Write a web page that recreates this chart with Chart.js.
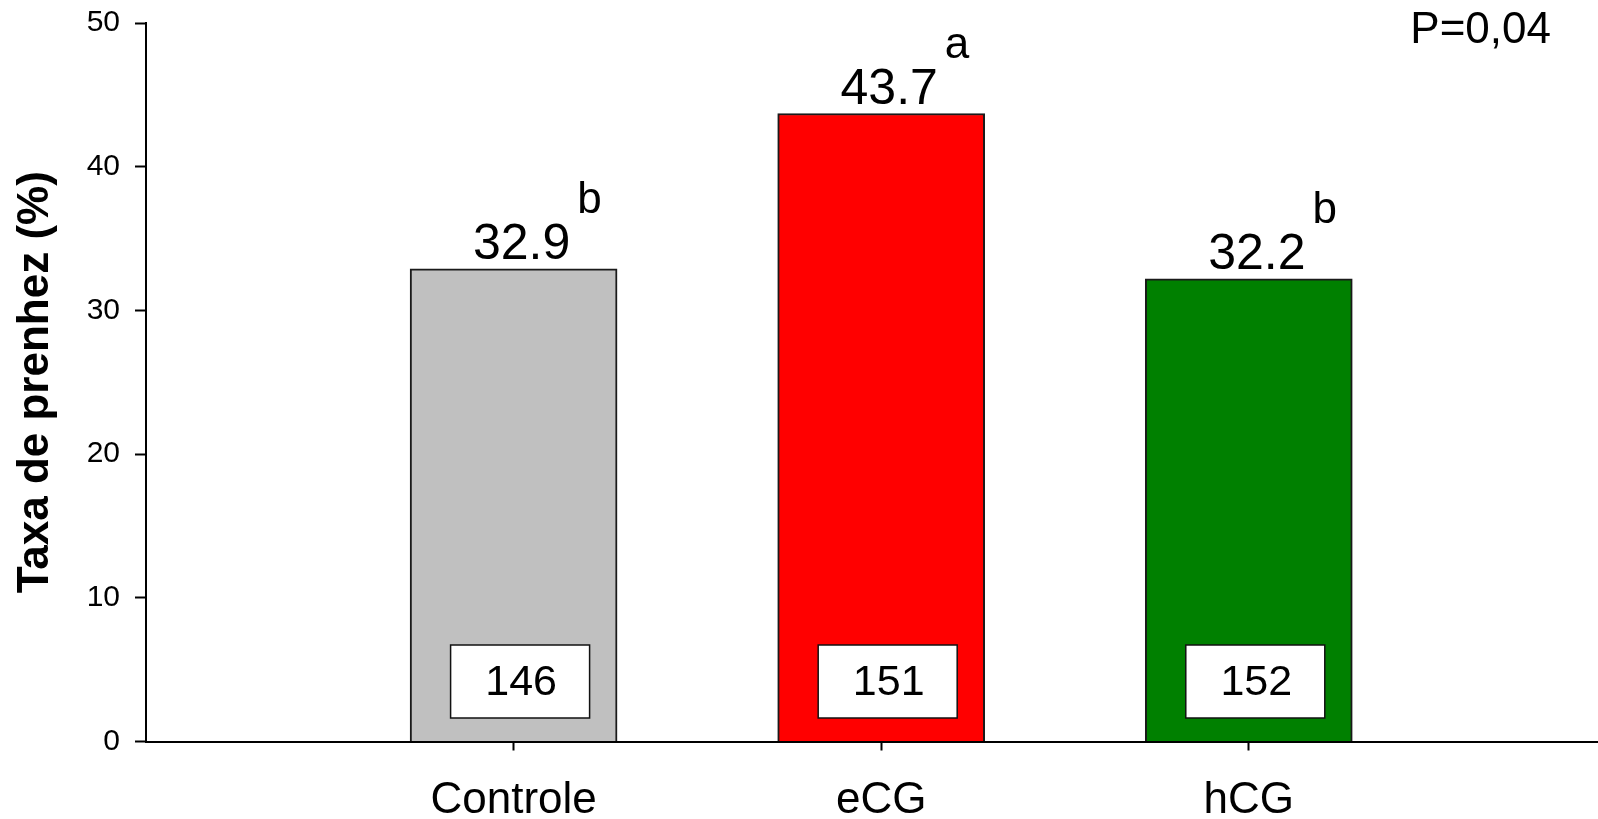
<!DOCTYPE html>
<html>
<head>
<meta charset="utf-8">
<script src="https://cdn.jsdelivr.net/npm/chart.js@4"></script>
<style>
  body { margin: 0; background: #fff; }
</style>
</head>
<body>
<canvas id="myChart" width="1598" height="819"></canvas>
<script>
const categories = ["Controle", "eCG", "hCG"];
const pregnancyRate = [32.9, 43.7, 32.2];
const nAnimals = [146, 151, 152];
const letters = ["b", "a", "b"];
const barColors = ["#C0C0C0", "#FF0000", "#008000"];
const yTicks = [0, 10, 20, 30, 40, 50];
const pText = "P=0,04";

const FONT = "'Liberation Sans', Arial, Helvetica, sans-serif";

// value labels, superscript letters, n boxes and the P value
const annotations = {
  id: "annotations",
  afterDatasetsDraw(chart) {
    const ctx = chart.ctx;
    const bars = chart.getDatasetMeta(0).data;
    ctx.save();
    bars.forEach((bar, i) => {
      // value above bar
      ctx.font = "50px " + FONT;
      ctx.fillStyle = "#000";
      ctx.textAlign = "center";
      ctx.textBaseline = "alphabetic";
      const label = pregnancyRate[i].toFixed(1);
      const cx = bar.x + 8;
      const baseY = bar.y - 10;
      ctx.fillText(label, cx, baseY);
      const w = ctx.measureText(label).width;

      // significance letter
      ctx.font = "44px " + FONT;
      ctx.textAlign = "left";
      ctx.fillText(letters[i], cx + w / 2 + 7, baseY - 46);

      // n box
      const bx = bar.x - 63;
      const by = bar.base - 96;
      const bw = 139;
      const bh = 73;
      ctx.fillStyle = "#fff";
      ctx.fillRect(bx, by, bw, bh);
      ctx.lineWidth = 1.5;
      ctx.strokeStyle = "#111";
      ctx.strokeRect(bx, by, bw, bh);
      ctx.fillStyle = "#000";
      ctx.font = "43px " + FONT;
      ctx.textAlign = "center";
      ctx.textBaseline = "middle";
      ctx.fillText(String(nAnimals[i]), bx + bw / 2 + 1, by + bh / 2 + 2);
    });

    ctx.font = "44px " + FONT;
    ctx.textAlign = "right";
    ctx.textBaseline = "alphabetic";
    ctx.fillStyle = "#000";
    ctx.fillText(pText, 1551, 43);
    ctx.restore();
  },
};

const ctx = document.getElementById("myChart");

new Chart(ctx, {
  type: "bar",
  data: {
    datasets: [
      {
        data: pregnancyRate.map((v, i) => ({ x: i + 1, y: v })),
        backgroundColor: barColors,
        borderColor: "#1a1a1a",
        borderWidth: 2,
        barThickness: 207,
      },
    ],
  },
  options: {
    responsive: false,
    animation: false,
    devicePixelRatio: 1,
    layout: {
      padding: { top: 23, right: 0, bottom: 0, left: 0 },
    },
    plugins: {
      legend: { display: false },
      tooltip: { enabled: false },
    },
    scales: {
      x: {
        type: "linear",
        offset: false,
        min: 0,
        max: 3.95,
        afterBuildTicks: (scale) => {
          scale.ticks = categories.map((c, i) => ({ value: i + 1 }));
        },
        afterFit: (scale) => {
          scale.height = 77.5;
        },
        ticks: {
          callback: (value) => categories[value - 1] || "",
          color: "#000",
          font: { family: FONT, size: 44 },
          padding: 24,
          maxRotation: 0,
          autoSkip: false,
        },
        grid: {
          display: true,
          offset: false,
          drawOnChartArea: false,
          drawTicks: true,
          tickLength: 9,
          tickWidth: 2,
          tickColor: "#000",
        },
        border: { display: true, color: "#000", width: 2 },
      },
      y: {
        min: 0,
        max: 50,
        afterBuildTicks: (scale) => {
          scale.ticks = yTicks.map((v) => ({ value: v }));
        },
        afterFit: (scale) => {
          scale.width = 146;
          scale.paddingTop = 0;
          scale.paddingBottom = 0;
        },
        ticks: {
          color: "#000",
          font: { family: FONT, size: 30 },
          padding: 15,
        },
        grid: {
          display: true,
          drawOnChartArea: false,
          drawTicks: true,
          tickLength: 11,
          tickWidth: 2,
          tickColor: "#000",
        },
        border: { display: true, color: "#000", width: 2 },
        title: {
          display: true,
          text: "Taxa de prenhez (%)",
          color: "#000",
          font: { family: FONT, size: 44, weight: "bold" },
          padding: { top: 9, bottom: 0 },
        },
      },
    },
  },
  plugins: [annotations],
});
</script>
</body>
</html>
